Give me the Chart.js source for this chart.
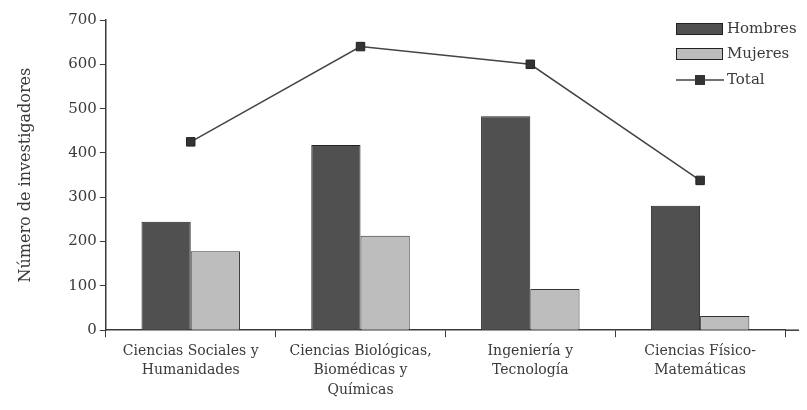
<!DOCTYPE html>
<html>
<head>
<meta charset="utf-8">
<script src="https://cdn.jsdelivr.net/npm/chart.js@4/dist/chart.umd.min.js"></script>
<style>
  html, body { margin: 0; padding: 0; background: #fff; }
  #wrap { width: 807px; height: 410px; }
</style>
</head>
<body>
<div id="wrap"><canvas id="myChart"></canvas></div>
<script>
// data
const categories = [
  ['Ciencias Sociales y', 'Humanidades'],
  ['Ciencias Biológicas,', 'Biomédicas y', 'Químicas'],
  ['Ingeniería y', 'Tecnología'],
  ['Ciencias Físico-', 'Matemáticas']
];
const hombres = [245, 418, 483, 281];
const mujeres = [178, 213, 93, 32];
const total = [425, 640, 600, 338];
const yTicks = [0, 100, 200, 300, 400, 500, 600, 700];

const serif = "'DejaVu Serif', 'Liberation Serif', serif";
const ink = '#3a3a3a';

// small vertical legend in the top right corner
const cornerLegend = {
  id: 'cornerLegend',
  afterDraw(chart) {
    const ctx = chart.ctx;
    const area = chart.chartArea;
    const x = area.right - 109;
    const ds = chart.data.datasets;
    const byLabel = (name) => ds.find((d) => d.label === name);
    ctx.save();

    // the x axis line runs on a little past the last tick
    ctx.strokeStyle = ink;
    ctx.lineWidth = 1.5;
    ctx.beginPath();
    ctx.moveTo(area.right, area.bottom);
    ctx.lineTo(area.right + 14, area.bottom);
    ctx.stroke();

    ctx.font = '15px ' + serif;
    ctx.textBaseline = 'middle';

    // two bar series
    ['Hombres', 'Mujeres'].forEach((name, i) => {
      const d = byLabel(name);
      const y = 23 + i * 25;
      ctx.fillStyle = d.backgroundColor;
      ctx.fillRect(x, y, 46, 11);
      ctx.strokeStyle = '#222';
      ctx.lineWidth = 1;
      ctx.strokeRect(x + 0.5, y + 0.5, 46, 11);
      ctx.fillStyle = ink;
      ctx.fillText(name, x + 51, y + 6);
    });

    // line series
    const t = byLabel('Total');
    const ly = 80;
    ctx.strokeStyle = t.borderColor;
    ctx.lineWidth = 1.5;
    ctx.beginPath();
    ctx.moveTo(x, ly);
    ctx.lineTo(x + 48, ly);
    ctx.stroke();
    ctx.fillStyle = t.pointBackgroundColor;
    ctx.fillRect(x + 19, ly - 5, 10, 10);
    ctx.fillStyle = ink;
    ctx.fillText('Total', x + 51, ly);
    ctx.restore();
  }
};

const chartConfiguration = {
  data: {
    labels: categories,
    datasets: [
      {
        type: 'line',
        label: 'Total',
        data: total,
        borderColor: '#444',
        borderWidth: 1.5,
        pointStyle: 'rect',
        pointRadius: 6,
        pointBackgroundColor: '#333',
        pointBorderColor: '#222',
        pointBorderWidth: 1,
        order: 0
      },
      {
        type: 'bar',
        label: 'Hombres',
        data: hombres,
        backgroundColor: '#505050',
        borderColor: '#222',
        borderWidth: 1,
        order: 1
      },
      {
        type: 'bar',
        label: 'Mujeres',
        data: mujeres,
        backgroundColor: '#bdbdbd',
        borderColor: '#333',
        borderWidth: 1,
        order: 1
      }
    ]
  },
  options: {
    responsive: true,
    maintainAspectRatio: false,
    animation: false,
    datasets: {
      bar: { categoryPercentage: 0.58, barPercentage: 1 }
    },
    layout: { padding: { top: 20, right: 22, left: 14, bottom: 6 } },
    plugins: {
      legend: { display: false },
      tooltip: { enabled: false }
    },
    scales: {
      x: {
        offset: true,
        grid: {
          offset: true,
          drawOnChartArea: false,
          tickLength: 7,
          color: ink
        },
        border: { color: ink, width: 1.5 },
        ticks: {
          color: ink,
          padding: 4,
          maxRotation: 0,
          font: { family: serif, size: 14, lineHeight: 1.4 }
        }
      },
      y: {
        min: 0,
        max: 700,
        afterBuildTicks(axis) {
          axis.ticks = yTicks.map((v) => ({ value: v }));
        },
        grid: {
          drawOnChartArea: false,
          tickLength: 6,
          color: ink
        },
        border: { color: ink, width: 1.5 },
        ticks: {
          color: ink,
          padding: 3,
          font: { family: serif, size: 15 }
        },
        title: {
          display: true,
          text: 'Número de investigadores',
          color: ink,
          padding: { top: 2, bottom: 30 },
          font: { family: serif, size: 16 }
        }
      }
    }
  },
  plugins: [cornerLegend]
};

const myChart = new Chart(document.getElementById('myChart'), chartConfiguration);
</script>
</body>
</html>
